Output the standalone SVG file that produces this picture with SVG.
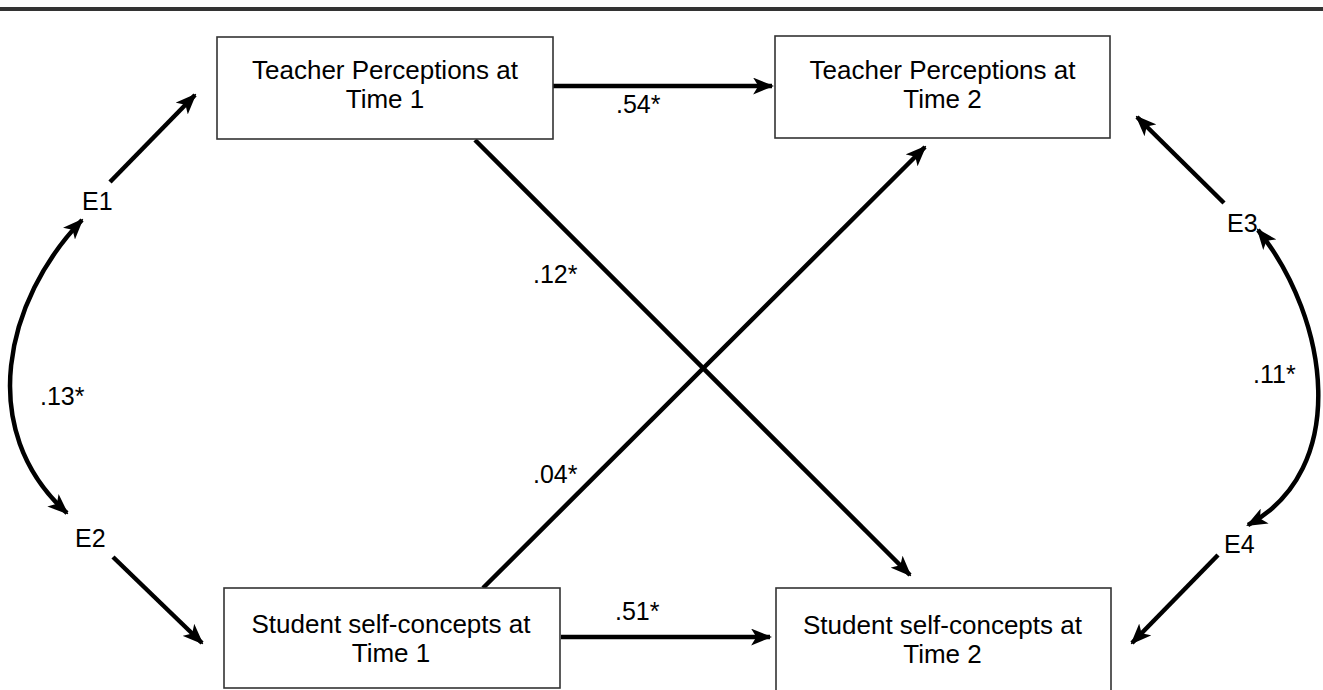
<svg xmlns="http://www.w3.org/2000/svg" width="1323" height="690" viewBox="0 0 1323 690">
<defs>
<style>
.box{fill:#fff;stroke:#333;stroke-width:1.6}
.t{font-family:"Liberation Sans",Arial,sans-serif;font-size:26px;fill:#000;text-anchor:middle}
.l{font-family:"Liberation Sans",Arial,sans-serif;font-size:25px;fill:#000}
.c{fill:none;stroke:#000;stroke-width:4.5}
</style>
<marker id="ah" markerUnits="userSpaceOnUse" viewBox="0 0 20 16" markerWidth="21" markerHeight="17" refX="18" refY="8" orient="auto-start-reverse">
<path d="M0,0 L20,8 L0,16 L5,8 z" fill="#000"/>
</marker>
</defs>
<rect width="1323" height="690" fill="#fff"/>
<rect x="0" y="7" width="1323" height="4" fill="#333"/>
<g id="connectors">
<path class="c" d="M553,86 H772" marker-end="url(#ah)"/>
<path class="c" d="M561,637 H770" marker-end="url(#ah)"/>
<path class="c" d="M475,140 L910,575" marker-end="url(#ah)"/>
<path class="c" d="M483,588 L925,147" marker-end="url(#ah)"/>
<path class="c" d="M110,182 L195,95" marker-end="url(#ah)"/>
<path class="c" d="M113,557 L202,643" marker-end="url(#ah)"/>
<path class="c" d="M1224,203 L1137,117" marker-end="url(#ah)"/>
<path class="c" d="M1218,555 L1132,643" marker-end="url(#ah)"/>
<path class="c" d="M82,220 C5,300 -25,430 67,513" marker-start="url(#ah)" marker-end="url(#ah)"/>
<path class="c" d="M1258,230 C1330,320 1350,470 1248,525" marker-start="url(#ah)" marker-end="url(#ah)"/>
<text class="l" x="616" y="113">.54*</text>
<text class="l" x="615" y="620">.51*</text>
<text class="l" x="533" y="283">.12*</text>
<text class="l" x="533" y="483">.04*</text>
<text class="l" x="40" y="405">.13*</text>
<text class="l" x="1253" y="383">.11*</text>
</g>
<g id="tp1">
<rect class="box" x="217" y="37" width="336" height="102"/>
<text class="t" x="385" y="79">Teacher Perceptions at</text>
<text class="t" x="385" y="108">Time 1</text>
</g>
<g id="tp2">
<rect class="box" x="775" y="36" width="335" height="102"/>
<text class="t" x="942.5" y="79">Teacher Perceptions at</text>
<text class="t" x="942.5" y="108">Time 2</text>
</g>
<g id="ss1">
<rect class="box" x="224" y="588" width="336" height="100"/>
<text class="t" x="391" y="633">Student self-concepts at</text>
<text class="t" x="391" y="662">Time 1</text>
</g>
<g id="ss2">
<rect class="box" x="776" y="588" width="335" height="104"/>
<text class="t" x="942.5" y="634">Student self-concepts at</text>
<text class="t" x="942.5" y="663">Time 2</text>
</g>
<g id="E1"><text class="l" x="82" y="210">E1</text></g>
<g id="E2"><text class="l" x="75" y="547">E2</text></g>
<g id="E3"><text class="l" x="1227" y="232">E3</text></g>
<g id="E4"><text class="l" x="1224" y="553">E4</text></g>
</svg>
